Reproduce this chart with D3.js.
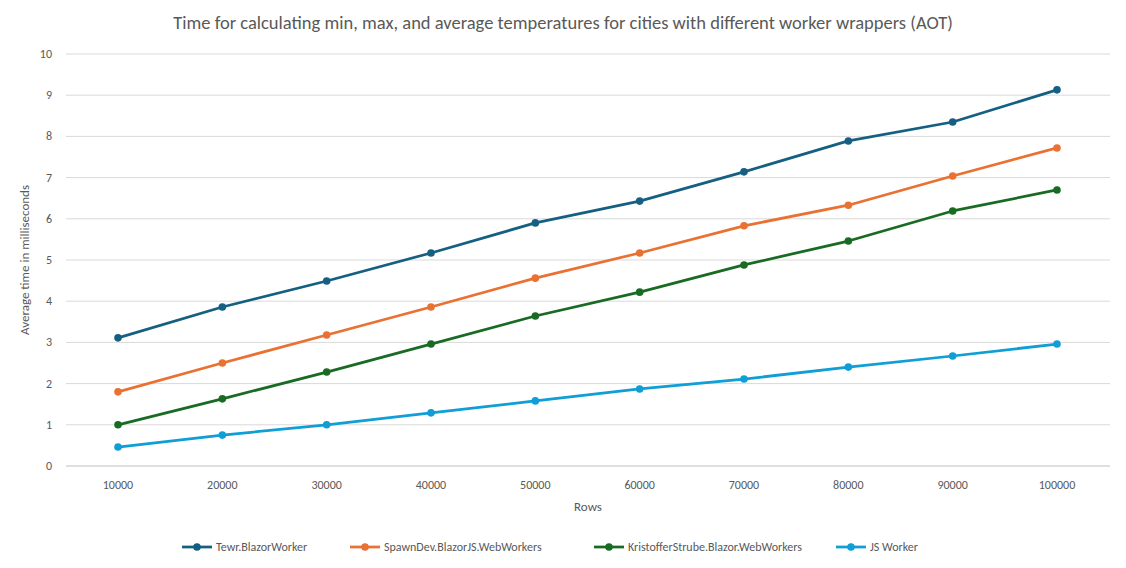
<!DOCTYPE html>
<html><head><meta charset="utf-8">
<script src="https://cdn.jsdelivr.net/npm/d3@7"></script>
<style>body{margin:0;background:#fff;font-family:Calibri,Carlito,"Liberation Sans",Arial,sans-serif}</style>
</head><body><svg id="c" width="1126" height="568"></svg>
<script>
const categories=["10000","20000","30000","40000","50000","60000","70000","80000","90000","100000"];
const seriesNames=["Tewr.BlazorWorker","SpawnDev.BlazorJS.WebWorkers","KristofferStrube.Blazor.WebWorkers","JS Worker"];
const tewr=[3.11,3.86,4.49,5.17,5.90,6.43,7.14,7.89,8.35,9.13];
const spawn=[1.80,2.50,3.18,3.86,4.56,5.17,5.83,6.33,7.04,7.72];
const kris=[1.00,1.63,2.28,2.96,3.64,4.22,4.88,5.46,6.19,6.70];
const jsw=[0.46,0.75,1.00,1.29,1.58,1.87,2.11,2.40,2.67,2.96];
const yTicks=[0,1,2,3,4,5,6,7,8,9,10];
const colors=["#156082","#e97132","#196b24","#0f9ed5"];
const data=[tewr,spawn,kris,jsw];
const svg=d3.select("#c");
const x=d3.scalePoint().domain(categories).range([118,1057]);
const y=d3.scaleLinear().domain([0,10]).range([466,54]);
const g=svg.append("g");
g.selectAll("line.grid").data(yTicks).join("line").attr("x1",66).attr("x2",1110)
 .attr("y1",d=>y(d)).attr("y2",d=>y(d)).attr("stroke",d=>d===0?"#bfbfbf":"#d9d9d9").attr("stroke-width",1);
g.selectAll("text.yt").data(yTicks).join("text").attr("x",52).attr("y",d=>y(d)+4).attr("text-anchor","end")
 .attr("font-size",12).attr("fill","#595959").text(d=>d);
g.selectAll("text.xt").data(categories).join("text").attr("x",d=>x(d)).attr("y",489).attr("text-anchor","middle")
 .attr("font-size",12).attr("fill","#595959").text(d=>d);
svg.append("text").attr("x",563).attr("y",29).attr("text-anchor","middle").attr("font-size",18.5).attr("fill","#595959")
 .text("Time for calculating min, max, and average temperatures for cities with different worker wrappers (AOT)");
svg.append("text").attr("x",588).attr("y",511).attr("text-anchor","middle").attr("font-size",13).attr("fill","#595959").text("Rows");
svg.append("text").attr("transform","translate(29,260) rotate(-90)").attr("text-anchor","middle").attr("font-size",13).attr("fill","#595959").text("Average time in milliseconds");
const line=d3.line().x((d,i)=>x(categories[i])).y(d=>y(d));
data.forEach((s,k)=>{
 svg.append("path").attr("d",line(s)).attr("fill","none").attr("stroke",colors[k]).attr("stroke-width",2.75).attr("stroke-linejoin","round");
 svg.selectAll("c"+k).data(s).join("circle").attr("cx",(d,i)=>x(categories[i])).attr("cy",d=>y(d)).attr("r",3.8).attr("fill",colors[k]);
});
const lx=[182,350,594,836];
seriesNames.forEach((n,k)=>{
 const lg=svg.append("g").attr("transform",`translate(${lx[k]},547)`);
 lg.append("line").attr("x1",0).attr("x2",30).attr("stroke",colors[k]).attr("stroke-width",2.75);
 lg.append("circle").attr("cx",15).attr("r",3.8).attr("fill",colors[k]);
 lg.append("text").attr("x",34).attr("y",4).attr("font-size",12).attr("fill","#595959").text(n);
});
</script></body></html>
